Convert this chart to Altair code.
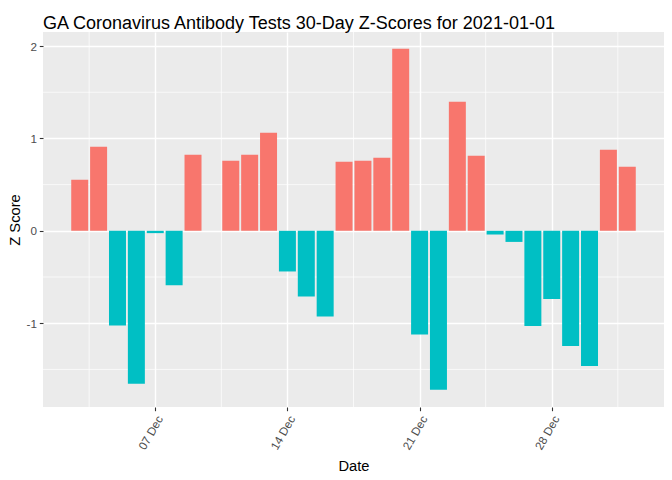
import altair as alt
import pandas as pd

dates = ["2020-12-03", "2020-12-04", "2020-12-05", "2020-12-06", "2020-12-07",
         "2020-12-08", "2020-12-09", "2020-12-11", "2020-12-12", "2020-12-13",
         "2020-12-14", "2020-12-15", "2020-12-16", "2020-12-17", "2020-12-18",
         "2020-12-19", "2020-12-20", "2020-12-21", "2020-12-22", "2020-12-23",
         "2020-12-24", "2020-12-25", "2020-12-26", "2020-12-27", "2020-12-28",
         "2020-12-29", "2020-12-30", "2020-12-31", "2021-01-01"]
zscores = [0.553, 0.91, -1.026, -1.654, -0.025,
           -0.59, 0.823, 0.758, 0.823, 1.062,
           -0.44, -0.71, -0.928, 0.748, 0.758,
           0.79, 1.97, -1.123, -1.719, 1.397,
           0.812, -0.04, -0.12, -1.03, -0.737,
           -1.246, -1.463, 0.877, 0.693]

y_major = [-1, 0, 1, 2]
y_minor = [-1.5, -0.5, 0.5, 1.5]
x_minor = ["2020-12-03T12:00:00", "2020-12-10T12:00:00", "2020-12-17T12:00:00",
           "2020-12-24T12:00:00", "2020-12-31T12:00:00"]
x_major = [7, 14, 21, 28]

df = pd.DataFrame({"date": [d + "T00:00:00" for d in dates], "z": zscores})
df["sign"] = ["pos" if v > 0 else "neg" for v in zscores]

W, H = 621, 375
x_scale = alt.Scale(domain=[alt.DateTime(year=2020, month=12, date=1, hours=1, minutes=19),
                            alt.DateTime(year=2021, month=1, date=2, hours=22, minutes=41)])
y_scale = alt.Scale(domain=[-1.907, 2.152], nice=False, zero=False)

grid_minor_x = alt.Chart(pd.DataFrame({"x": x_minor})).mark_rule(
    color="white", strokeWidth=0.7).encode(x=alt.X("x:T", scale=x_scale))
grid_minor_y = alt.Chart(pd.DataFrame({"y": y_minor})).mark_rule(
    color="white", strokeWidth=0.7).encode(y=alt.Y("y:Q", scale=y_scale))

bars = alt.Chart(df).mark_bar().transform_calculate(
    start="time(datum.date) - 0.45*86400000",
    end="time(datum.date) + 0.45*86400000",
).encode(
    x=alt.X("start:T", scale=x_scale, title="Date",
            axis=alt.Axis(values=[alt.DateTime(year=2020, month=12, date=d) for d in x_major],
                          format="%d %b", labelAngle=-60, labelAlign="right",
                          labelBaseline="top", labelPadding=3,
                          titleY=63, titleX=W / 2, titleBaseline="alphabetic")),
    x2="end:T",
    y=alt.Y("z:Q", scale=y_scale, title="Z Score",
            axis=alt.Axis(values=y_major, labelExpr="'' + datum.value",
                          titleX=-28, titleY=H / 2,
                          titleBaseline="middle", titleAlign="center")),
    y2=alt.datum(0),
    color=alt.Color("sign:N", scale=alt.Scale(domain=["pos", "neg"],
                                              range=["#F8766D", "#00BFC4"]), legend=None),
)

chart = alt.layer(grid_minor_x, grid_minor_y, bars).properties(
    width=W, height=H,
    title=alt.TitleParams("GA Coronavirus Antibody Tests 30-Day Z-Scores for 2021-01-01",
                          anchor="start", frame="group", fontSize=18,
                          font="Liberation Sans", fontWeight="normal", color="black",
                          baseline="alphabetic", offset=5, dy=20),
    autosize=alt.AutoSizeParams(type="none"),
    padding={"left": 35, "top": 24, "right": 0, "bottom": 65},
    background="white",
).configure_view(fill="#EBEBEB", stroke=None).configure_axis(
    labelFont="Liberation Sans", titleFont="Liberation Sans",
    labelFontSize=11.7, labelColor="#4D4D4D", titleFontSize=14.7,
    titleColor="black", titleFontWeight="normal",
    grid=True, gridColor="white", gridWidth=1.4, domain=False,
    tickColor="#333333", tickSize=3.7, tickWidth=1.1, labelPadding=2.9,
)

chart.save("out.html", embed_options={"renderer": "svg", "actions": False})
